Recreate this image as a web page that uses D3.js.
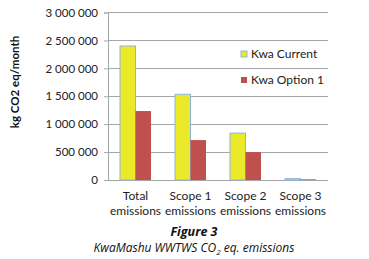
<!DOCTYPE html>
<html><head><meta charset="utf-8">
<script src="https://cdn.jsdelivr.net/npm/d3@7"></script>
<style>body{margin:0;background:#fff;}svg{display:block;}</style>
</head><body>
<script>
const categories = [["Total","emissions"],["Scope 1","emissions"],["Scope 2","emissions"],["Scope 3","emissions"]];
const seriesNames = ["Kwa Current","Kwa Option 1"];
const kwaCurrent = [2400000, 1535000, 840000, 25000];
const kwaOption1 = [1235000, 715000, 500000, 12000];
const yTicks = [0,500000,1000000,1500000,2000000,2500000,3000000];
const colors = ["#eaea2a","#c0504d"];

const W=369,H=259;
const svg=d3.select("body").append("svg").attr("width",W).attr("height",H);
const x=d3.scaleBand().domain(d3.range(categories.length)).range([108,328]);
const y=d3.scaleLinear().domain([0,3000000]).range([180,12.5]);
const fmt=v=>d3.format(",")(v).replace(/,/g," ");
const font="Lato, 'Open Sans', sans-serif";

// grid
svg.append("g").selectAll("line").data(yTicks.filter(d=>d>0)).join("line")
 .attr("x1",108).attr("x2",328).attr("y1",d=>y(d)).attr("y2",d=>y(d))
 .attr("stroke","#a6a6a6").attr("stroke-width",1).attr("shape-rendering","crispEdges");

// y axis
const ya=svg.append("g").attr("transform","translate(108,0)")
 .call(d3.axisLeft(y).tickValues(yTicks).tickFormat(fmt).tickSize(4).tickPadding(6));
ya.select(".domain").attr("stroke","#a6a6a6");
ya.selectAll(".tick line").attr("stroke","#a6a6a6");
ya.selectAll("text").attr("font-family",font).attr("font-size",11.5).attr("fill","#222");
// x baseline
svg.append("line").attr("x1",108).attr("x2",328).attr("y1",y(0)).attr("y2",y(0))
 .attr("stroke","#a6a6a6").attr("shape-rendering","crispEdges");

const bw=15.5;
const series=[kwaCurrent,kwaOption1];
series.forEach((vals,si)=>{
 svg.append("g").selectAll("rect").data(vals).join("rect")
  .attr("x",(d,i)=>x(i)+x.bandwidth()/2-bw+si*bw)
  .attr("y",d=>y(d)).attr("width",bw).attr("height",d=>y(0)-y(d))
  .attr("fill",colors[si])
  .attr("stroke",si===0?"#8db3e2":"none").attr("stroke-width",si===0?1:0);
});

// x labels
const xl=svg.append("g");
categories.forEach((c,i)=>{
 c.forEach((t,j)=>{
  xl.append("text").attr("x",x(i)+x.bandwidth()/2).attr("y",200+j*15)
   .attr("text-anchor","middle").attr("font-family",font).attr("font-size",12).attr("fill","#222").text(t);
 });
});

// y title
svg.append("text").attr("transform","translate(19,82) rotate(-90)").attr("text-anchor","middle")
 .attr("font-family",font).attr("font-weight","bold").attr("font-size",11.5).attr("fill","#111").text("kg CO2 eq/month");

// legend
const lg=svg.append("g");
seriesNames.forEach((n,i)=>{
 const cy=54+i*26;
 lg.append("rect").attr("x",241).attr("y",cy-3).attr("width",6).attr("height",6)
  .attr("fill",colors[i]).attr("stroke",i===0?"#8db3e2":"none");
 lg.append("text").attr("x",251).attr("y",cy+4).attr("font-family",font).attr("font-size",12).attr("fill","#222").text(n);
});

// caption
svg.append("text").attr("x",194).attr("y",235.5).attr("text-anchor","middle")
 .attr("font-family","'Open Sans', sans-serif").attr("font-weight","bold").attr("font-style","italic").attr("font-size",12.5).attr("fill","#111").text("Figure 3");
const cap=svg.append("text").attr("x",194).attr("y",252).attr("text-anchor","middle")
 .attr("font-family","'Open Sans', sans-serif").attr("font-style","italic").attr("font-size",12).attr("fill","#111");
cap.append("tspan").text("KwaMashu WWTWS CO");
cap.append("tspan").attr("dy",3).attr("font-size",8).text("2");
cap.append("tspan").attr("dy",-3).text(" eq. emissions");
</script>
</body></html>
